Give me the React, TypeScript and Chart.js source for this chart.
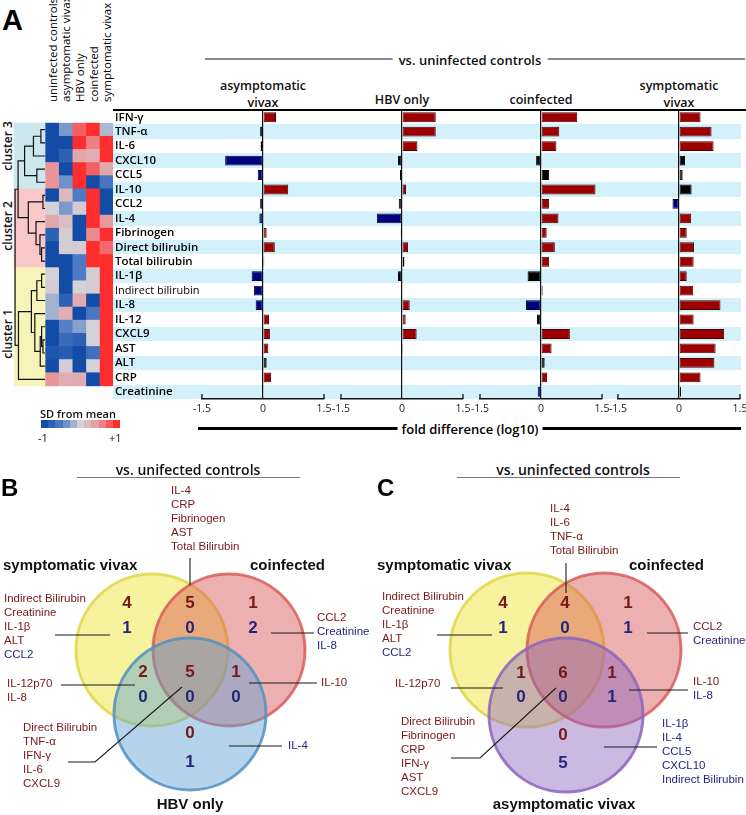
import React, { useEffect, useRef } from 'react';
import { Chart, registerables } from 'chart.js';

Chart.register(...registerables);

// ======================= DATA =======================
const ROW_LABELS = ['IFN-γ', 'TNF-α', 'IL-6', 'CXCL10', 'CCL5', 'IL-10', 'CCL2', 'IL-4', 'Fibrinogen', 'Direct bilirubin', 'Total bilirubin', 'IL-1β', 'Indirect bilirubin', 'IL-8', 'IL-12', 'CXCL9', 'AST', 'ALT', 'CRP', 'Creatinine'];
const GROUP_LABELS = ['uninfected controls', 'asymptomatic vivax', 'HBV only', 'coinfected', 'symptomatic vivax'];
const ROW_CLUSTER = [3, 3, 3, 3, 3, 2, 2, 2, 2, 2, 2, 1, 1, 1, 1, 1, 1, 1, 1, 1];
const CLUSTER_LABELS = ['cluster 1', 'cluster 2', 'cluster 3'];

// heatmap: SD from mean, one array per group (column)
const SD_UNINFECTED = [-1, -1, -1, 0.5, 0.5, -1, 0.0, 0.35, -0.8, -1, -1, 0.0, 0.05, -0.2, -0.2, -1, -1, -0.9, -1, 0.5];
const SD_ASYMPTOMATIC = [-0.35, -1, -0.8, -1, -0.4, 0.2, -0.35, 0.15, 0.05, 0.05, -1, -1, -1, -0.8, 0.3, -0.5, -0.7, -0.85, 0.05, 0.3];
const SD_HBV = [0.75, 1, 0.35, 1, 1, -0.55, 0.05, -1, -1, 0.05, -0.55, -0.55, 0.0, 0.3, -1, -0.3, -0.8, -1, -1, 0.3];
const SD_COINFECTED = [1, 0.6, 0.3, 0.75, -1, 1, 1, 1, 0.55, 1, 1, 0.05, 0.05, -1, -0.6, 0.0, 0.0, -0.65, 0.0, -1];
const SD_SYMPTOMATIC = [-0.15, 1, 1, 0.35, -0.6, -1, -1, 0.45, 1, 0.7, 1, 1, 1, 1, 1, 1, 1, 1, 1, 1];

// dendrogram merges: [childA, childB, height]; leaves 0..19, merged nodes numbered 20, 21, ...
const DENDRO_MERGES: [number, number, number][] = [
  [0, 1, 0.3], [20, 2, 0.85], [3, 4, 0.6], [21, 22, 1.5],
  [5, 6, 0.15], [9, 10, 0.25], [8, 25, 0.37], [7, 26, 0.66], [24, 27, 1.23],
  [23, 28, 1.98],
  [11, 12, 0.25], [30, 13, 0.6], [16, 17, 0.15], [15, 32, 0.25], [33, 18, 0.35], [14, 34, 0.75], [31, 35, 1.0], [36, 19, 1.95],
  [29, 37, 2.2],
];

// fold difference (log10) vs. uninfected controls
const COMPARISON_TITLES = ['asymptomatic\nvivax', 'HBV only', 'coinfected', 'symptomatic\nvivax'];
const FC_ASYMPTOMATIC = [0.32, -0.07, -0.06, -0.93, -0.13, 0.62, -0.07, -0.09, 0.09, 0.29, 0.03, -0.28, -0.22, -0.18, 0.15, 0.17, 0.13, 0.09, 0.2, -0.02];
const SIG_ASYMPTOMATIC = ['up', 'ns', 'ns', 'down', 'down', 'up', 'ns', 'down', 'up', 'up', 'ns', 'down', 'down', 'down', 'up', 'up', 'up', 'ns', 'up', 'ns'];
const FC_HBV = [0.83, 0.83, 0.38, -0.1, -0.05, 0.1, -0.08, -0.62, -0.03, 0.15, 0.06, -0.1, 0.0, 0.19, 0.09, 0.36, 0.03, -0.01, -0.02, 0.0];
const SIG_HBV = ['up', 'up', 'up', 'ns', 'ns', 'up', 'ns', 'down', 'ns', 'up', 'ns', 'ns', 'ns', 'up', 'up', 'up', 'ns', 'ns', 'ns', 'ns'];
const FC_COINFECTED = [0.89, 0.45, 0.38, -0.12, 0.2, 1.34, 0.2, 0.43, 0.14, 0.34, 0.2, -0.33, 0.04, -0.37, -0.1, 0.71, 0.26, 0.09, 0.15, -0.08];
const SIG_COINFECTED = ['up', 'up', 'up', 'ns', 'ns', 'up', 'up', 'up', 'up', 'up', 'up', 'ns', 'ns', 'down', 'ns', 'up', 'up', 'ns', 'up', 'down'];
const FC_SYMPTOMATIC = [0.53, 0.8, 0.85, 0.15, 0.09, 0.31, -0.16, 0.3, 0.19, 0.37, 0.36, 0.19, 0.35, 1.02, 0.36, 1.11, 0.9, 0.87, 0.53, 0.05];
const SIG_SYMPTOMATIC = ['up', 'up', 'up', 'ns', 'ns', 'ns', 'down', 'up', 'up', 'up', 'up', 'up', 'up', 'up', 'up', 'up', 'up', 'up', 'up', 'up'];
const AXIS_TICKS = [-1.5, 0, 1.5];
const LEGEND_STEPS = [-1, -0.8, -0.6, -0.4, -0.2, 0, 0.2, 0.4, 0.6, 0.8, 1];

// Venn B
const VENN_B_SETS = ['symptomatic vivax', 'coinfected', 'HBV only'];
const VENN_B_UP = [4, 5, 1, 2, 5, 1, 0];
const VENN_B_DOWN = [1, 0, 2, 0, 0, 0, 1];
const VENN_B_GENES_UP = [['Indirect Bilirubin', 'Creatinine', 'IL-1β', 'ALT'], ['IL-4', 'CRP', 'Fibrinogen', 'AST', 'Total Bilirubin'], ['CCL2'], ['IL-12p70', 'IL-8'], ['Direct Bilirubin', 'TNF-α', 'IFN-γ', 'IL-6', 'CXCL9'], ['IL-10'], []];
const VENN_B_GENES_DOWN = [['CCL2'], [], ['Creatinine', 'IL-8'], [], [], [], ['IL-4']];
// Venn C
const VENN_C_SETS = ['symptomatic vivax', 'coinfected', 'asymptomatic vivax'];
const VENN_C_UP = [4, 4, 1, 1, 6, 1, 0];
const VENN_C_DOWN = [1, 0, 1, 0, 0, 1, 5];
const VENN_C_GENES_UP = [['Indirect Bilirubin', 'Creatinine', 'IL-1β', 'ALT'], ['IL-4', 'IL-6', 'TNF-α', 'Total Bilirubin'], ['CCL2'], ['IL-12p70'], ['Direct Bilirubin', 'Fibrinogen', 'CRP', 'IFN-γ', 'AST', 'CXCL9'], ['IL-10'], []];
const VENN_C_GENES_DOWN = [['CCL2'], [], ['Creatinine'], [], [], ['IL-8'], ['IL-1β', 'IL-4', 'CCL5', 'CXCL10', 'Indirect Bilirubin']];

// ======================= LAYOUT / STYLE =======================
const FONT_A = '"Open Sans", "DejaVu Sans", sans-serif';
const FONT_V = '"Liberation Sans", Arial, sans-serif';
const ROW_TOP = 110;
const ROW_BOTTOM = 399;
const ROW_H = (ROW_BOTTOM - ROW_TOP) / ROW_LABELS.length;
const HM_LEFT = 45;
const HM_RIGHT = 113;
const COL_W = (HM_RIGHT - HM_LEFT) / GROUP_LABELS.length;
const SHADE_LEFT = 14;
const PANEL_ZERO = [263, 402, 541, 679];
const HALF = 61;
const PAD = 16;
const LABEL_PAD = 2;
const CLUSTER_FILL: Record<number, string> = { 3: '#cde7ee', 2: '#f9c9ca', 1: '#f8f3b9' };
const SIG_FILL: Record<string, string> = { up: '#9c0000', down: '#00007f', ns: '#000000' };
const SIG_BORDER: Record<string, string> = { up: '#4a0000', down: '#000040', ns: '#000000' };
const UP_TEXT = '#761818';
const DOWN_TEXT = '#26267e';

const SD_STOPS: [number, number[]][] = [
  [-1, [18, 76, 166]], [-0.5, [85, 128, 200]], [0, [210, 210, 216]], [0.5, [232, 148, 152]], [1, [255, 46, 46]],
];
function sdColor(v: number): string {
  const x = Math.max(-1, Math.min(1, v));
  for (let k = 0; k < SD_STOPS.length - 1; k++) {
    const [a, ca] = SD_STOPS[k];
    const [b, cb] = SD_STOPS[k + 1];
    if (x <= b) {
      const t = (x - a) / (b - a);
      const c = ca.map((q, j) => Math.round(q + (cb[j] - q) * t));
      return `rgb(${c[0]},${c[1]},${c[2]})`;
    }
  }
  return 'rgb(255,46,46)';
}

// ======================= CHART CONFIGS =======================
function heatmapConfig(): any {
  const cols = [SD_UNINFECTED, SD_ASYMPTOMATIC, SD_HBV, SD_COINFECTED, SD_SYMPTOMATIC];
  const nodeY: number[] = ROW_LABELS.map((_, i) => i);
  const nodeH: number[] = ROW_LABELS.map(() => 0);
  DENDRO_MERGES.forEach(([a, b, h]) => {
    nodeY.push((nodeY[a] + nodeY[b]) / 2);
    nodeH.push(h);
  });
  const shadeX = -(HM_LEFT - SHADE_LEFT) / COL_W;
  const datasets: any[] = [];
  DENDRO_MERGES.forEach(([a, b, h]) => {
    datasets.push({
      type: 'line',
      data: [
        { x: -nodeH[a], y: nodeY[a] }, { x: -h, y: nodeY[a] },
        { x: -h, y: nodeY[b] }, { x: -nodeH[b], y: nodeY[b] },
      ],
      borderColor: '#111',
      borderWidth: 1.2,
      pointRadius: 0,
      pointHitRadius: 0,
      tension: 0,
      fill: false,
      order: 0,
    });
  });
  datasets.push({
    type: 'bar',
    data: ROW_LABELS.map((_, i) => ({ x: [shadeX, 0], y: i })),
    backgroundColor: ROW_CLUSTER.map((c) => CLUSTER_FILL[c]),
    grouped: false, barPercentage: 1, categoryPercentage: 1, borderWidth: 0, order: 2,
  });
  cols.forEach((col, c) => {
    datasets.push({
      type: 'bar',
      label: GROUP_LABELS[c],
      data: col.map((_, i) => ({ x: [c, c + 1], y: i })),
      backgroundColor: col.map(sdColor),
      grouped: false, barPercentage: 1, categoryPercentage: 1, borderWidth: 0, order: 2,
    });
  });
  return {
    type: 'bar',
    data: { datasets },
    options: {
      indexAxis: 'y',
      responsive: false,
      animation: false,
      events: [],
      layout: { padding: 0, autoPadding: false },
      plugins: { legend: { display: false }, tooltip: { enabled: false } },
      scales: {
        x: { type: 'linear', display: false, min: -HM_LEFT / COL_W, max: GROUP_LABELS.length },
        y: { type: 'linear', display: false, min: -0.5, max: ROW_LABELS.length - 0.5, reverse: true, ticks: { stepSize: 1 } },
      },
    },
  };
}

const bracketPlugin = {
  id: 'axisBrackets',
  afterDraw(chart: any) {
    const s = chart.scales.x;
    const ctx = chart.ctx;
    const yb = chart.chartArea.bottom;
    ctx.save();
    ctx.strokeStyle = '#111';
    ctx.lineWidth = 1.3;
    [AXIS_TICKS[0], AXIS_TICKS[AXIS_TICKS.length - 1]].forEach((v) => {
      const x = s.getPixelForValue(v);
      ctx.beginPath();
      ctx.moveTo(x, yb);
      ctx.lineTo(x, yb - 5);
      ctx.stroke();
    });
    ctx.restore();
  },
};

function barConfig(values: number[], sig: string[], showLabels: boolean): any {
  return {
    type: 'bar',
    data: {
      labels: ROW_LABELS,
      datasets: [{
        data: values,
        backgroundColor: sig.map((s) => SIG_FILL[s]),
        borderColor: sig.map((s) => SIG_BORDER[s]),
        borderWidth: 1,
        borderSkipped: false,
        barPercentage: 0.68,
        categoryPercentage: 1,
      }],
    },
    options: {
      indexAxis: 'y',
      responsive: false,
      animation: false,
      events: [],
      layout: { autoPadding: false, padding: { top: 8, bottom: 0, left: showLabels ? LABEL_PAD : PAD, right: PAD } },
      plugins: { legend: { display: false }, tooltip: { enabled: false } },
      scales: {
        x: {
          type: 'linear',
          min: AXIS_TICKS[0],
          max: AXIS_TICKS[AXIS_TICKS.length - 1],
          afterBuildTicks: (s: any) => { s.ticks = AXIS_TICKS.map((v) => ({ value: v })); },
          afterFit: (s: any) => { s.height = 20; },
          ticks: {
            autoSkip: false,
            maxRotation: 0,
            padding: 4,
            color: '#222',
            font: { family: FONT_A, size: 10.5 },
            callback: (v: any) => (v === 0 ? '0' : String(v)),
          },
          grid: {
            drawTicks: false,
            color: (c: any) => (c.tick && c.tick.value === 0 ? '#111' : 'rgba(0,0,0,0)'),
            lineWidth: 1.2,
          },
          border: { display: true, color: '#111', width: 1.5 },
        },
        y: {
          type: 'category',
          display: showLabels,
          afterFit: (s: any) => { s.width = showLabels ? PANEL_ZERO[0] - HALF - HM_RIGHT - LABEL_PAD : 0; },
          grid: { display: false },
          border: { display: false },
          ticks: {
            autoSkip: false,
            crossAlign: 'far',
            padding: 0,
            color: '#000',
            font: (c: any) => (ROW_LABELS[c.index] === 'Indirect bilirubin'
              ? { family: FONT_A, size: 11, weight: 'normal' }
              : { family: FONT_A, size: 11.5, weight: '600' }),
          },
        },
      },
    },
    plugins: [bracketPlugin],
  };
}

type VennLayout = {
  circles: number[][];
  r: number;
  nums: number[][];
  downGap: number[];
  labels: number[][];
  leaders: number[][][];
};
const VENN_B_LAYOUT: VennLayout = {
  circles: [[152, 170], [229, 170], [190, 234]],
  r: 76,
  nums: [[127, 123], [190, 123], [253, 123], [143, 192], [190, 192], [236, 192], [190, 253]],
  downGap: [25, 25, 25, 25, 25, 25, 29],
  labels: [[4, 119], [171, 11], [317, 138], [7, 204], [23, 248], [321, 203], [288, 266]],
  leaders: [
    [[55, 155], [110, 155]], [[190, 78], [190, 105]], [[271, 153], [314, 153]],
    [[61, 205], [135, 205]], [[68, 282], [95, 282], [182, 207]], [[249, 203], [317, 203]], [[229, 266], [282, 266]],
  ],
};
const VENN_C_LAYOUT: VennLayout = {
  circles: [[154, 170], [231, 170], [193, 235]],
  r: 77,
  nums: [[130, 123], [192, 123], [255, 123], [148, 193], [190, 193], [239, 193], [190, 255]],
  downGap: [25, 25, 25, 24, 24, 24, 28],
  labels: [[9, 117], [177, 29], [320, 147], [22, 204], [28, 242], [320, 202], [289, 244]],
  leaders: [
    [[64, 155], [119, 155]], [[193, 83], [193, 113]], [[274, 153], [315, 153]],
    [[78, 208], [130, 208]], [[78, 278], [107, 278], [183, 208]], [[256, 210], [315, 210]], [[231, 267], [284, 267]],
  ],
};
const VENN_W = 373;
const VENN_H = 335;
const CIRCLE_STYLE_B = [
  { fill: 'rgba(240,230,60,0.5)', stroke: 'rgba(225,215,70,0.85)' },
  { fill: 'rgba(215,80,80,0.45)', stroke: 'rgba(215,85,85,0.8)' },
  { fill: 'rgba(90,160,210,0.45)', stroke: 'rgba(80,145,195,0.85)' },
];
const CIRCLE_STYLE_C = [
  CIRCLE_STYLE_B[0], CIRCLE_STYLE_B[1],
  { fill: 'rgba(140,100,190,0.45)', stroke: 'rgba(140,100,190,0.85)' },
];

function vennConfig(sets: string[], up: number[], down: number[], gUp: string[][], gDown: string[][], L: VennLayout, styles: any[]): any {
  const textPlugin = {
    id: 'vennText',
    afterDatasetsDraw(chart: any) {
      const ctx = chart.ctx;
      const sx = chart.scales.x;
      const sy = chart.scales.y;
      const px = (v: number) => sx.getPixelForValue(v);
      const py = (v: number) => sy.getPixelForValue(v);
      ctx.save();
      ctx.strokeStyle = '#1a1a1a';
      ctx.lineWidth = 1.1;
      L.leaders.forEach((pts) => {
        ctx.beginPath();
        pts.forEach(([x, y], k) => (k ? ctx.lineTo(px(x), py(y)) : ctx.moveTo(px(x), py(y))));
        ctx.stroke();
      });
      ctx.textAlign = 'center';
      ctx.textBaseline = 'middle';
      ctx.font = `bold 17px ${FONT_V}`;
      up.forEach((n, k) => {
        const [x, y] = L.nums[k];
        ctx.fillStyle = UP_TEXT;
        ctx.fillText(String(n), px(x), py(y));
        ctx.fillStyle = DOWN_TEXT;
        ctx.fillText(String(down[k]), px(x), py(y + L.downGap[k]));
      });
      ctx.textAlign = 'left';
      ctx.font = `11.5px ${FONT_V}`;
      gUp.forEach((list, k) => {
        const [x, y] = L.labels[k];
        const all = [...list.map((g) => [g, UP_TEXT]), ...gDown[k].map((g) => [g, DOWN_TEXT])];
        all.forEach(([g, c], j) => {
          ctx.fillStyle = c;
          ctx.fillText(g, px(x), py(y + j * 14));
        });
      });
      ctx.restore();
    },
  };
  return {
    type: 'bubble',
    data: {
      datasets: L.circles.map((c, k) => ({
        label: sets[k],
        data: [{ x: c[0], y: c[1] }],
        radius: L.r,
        backgroundColor: styles[k].fill,
        borderColor: styles[k].stroke,
        borderWidth: 3,
        clip: false,
        order: L.circles.length - k,
      })),
    },
    options: {
      responsive: false,
      animation: false,
      events: [],
      layout: { padding: 0, autoPadding: false },
      plugins: { legend: { display: false }, tooltip: { enabled: false } },
      scales: {
        x: { type: 'linear', display: false, min: 0, max: VENN_W },
        y: { type: 'linear', display: false, min: 0, max: VENN_H, reverse: true },
      },
    },
    plugins: [textPlugin],
  };
}

// ======================= COMPONENTS =======================
function ChartCanvas(props: { left: number; top: number; width: number; height: number; make: () => any }) {
  const ref = useRef<HTMLCanvasElement>(null);
  useEffect(() => {
    const chart = new Chart(ref.current as HTMLCanvasElement, props.make());
    return () => chart.destroy();
  }, []);
  return (
    <canvas
      ref={ref}
      width={props.width}
      height={props.height}
      style={{ position: 'absolute', left: props.left, top: props.top, width: props.width, height: props.height }}
    />
  );
}

const abs: React.CSSProperties = { position: 'absolute', whiteSpace: 'nowrap', lineHeight: 1, color: '#111' };

export default function App() {
  const fcs = [FC_ASYMPTOMATIC, FC_HBV, FC_COINFECTED, FC_SYMPTOMATIC];
  const sigs = [SIG_ASYMPTOMATIC, SIG_HBV, SIG_COINFECTED, SIG_SYMPTOMATIC];
  const clusterCenters = [1, 2, 3].map((c) => {
    const idx = ROW_CLUSTER.map((v, i) => (v === c ? i : -1)).filter((i) => i >= 0);
    return ROW_TOP + ((idx[0] + idx[idx.length - 1] + 1) / 2) * ROW_H;
  });
  return (
    <div style={{ position: 'absolute', left: 0, top: 0, width: 746, height: 815, background: '#fff', overflow: 'hidden' }}>
      {/* ---------- Panel A ---------- */}
      <div style={{ ...abs, left: 2, top: 4, font: `bold 29px ${FONT_V}`, color: '#000' }}>A</div>
      {GROUP_LABELS.map((g, i) => (
        <div
          key={g}
          style={{
            ...abs, left: HM_LEFT + COL_W * (i + 0.5) - 7, top: 102, lineHeight: '14px',
            transform: 'rotate(-90deg)', transformOrigin: 'left top', font: `11.5px ${FONT_A}`, color: '#000',
          }}
        >{g}</div>
      ))}
      {CLUSTER_LABELS.map((c, i) => (
        <div
          key={c}
          style={{
            ...abs, left: 7, top: clusterCenters[i], transform: 'translate(-50%,-50%) rotate(-90deg)',
            font: `600 12px ${FONT_A}`, color: '#111',
          }}
        >{c}</div>
      ))}
      {/* header */}
      <div style={{ position: 'absolute', left: 205, top: 58, width: 540, height: 1.5, background: '#8c8c8c' }} />
      <div style={{ ...abs, left: 470, top: 51, transform: 'translateX(-50%)', background: '#fff', padding: '0 6px', font: `600 13px ${FONT_A}` }}>vs. uninfected controls</div>
      {COMPARISON_TITLES.map((t, i) => {
        const two = t.includes('\n');
        return (
          <div
            key={t}
            style={{
              ...abs, left: PANEL_ZERO[i] - 60, width: 120, textAlign: 'center', top: two ? 77 : 91,
              lineHeight: '14px', whiteSpace: 'pre', font: `600 12.5px ${FONT_A}`,
            }}
          >{t}</div>
        );
      })}
      {/* row stripes */}
      {ROW_LABELS.map((r, i) => (i % 2 === 1 ? (
        <div key={r} style={{ position: 'absolute', left: HM_RIGHT, top: ROW_TOP + i * ROW_H, width: 741 - HM_RIGHT, height: ROW_H, background: '#d3f1fb' }} />
      ) : null))}
      <div style={{ position: 'absolute', left: HM_RIGHT, top: ROW_TOP - 1.5, width: 746 - HM_RIGHT, height: 2, background: '#000' }} />

      <ChartCanvas left={0} top={ROW_TOP} width={HM_RIGHT} height={ROW_BOTTOM - ROW_TOP} make={heatmapConfig} />
      {fcs.map((v, i) => {
        const first = i === 0;
        const left = first ? HM_RIGHT : PANEL_ZERO[i] - HALF - PAD;
        const width = PANEL_ZERO[i] + HALF + PAD - left;
        return (
          <ChartCanvas key={i} left={left} top={ROW_TOP - 8} width={width} height={8 + (ROW_BOTTOM - ROW_TOP) + 20} make={() => barConfig(v, sigs[i], first)} />
        );
      })}

      {/* colour legend */}
      <div style={{ ...abs, left: 40, top: 406, font: `600 11px ${FONT_A}` }}>SD from mean</div>
      {LEGEND_STEPS.map((s, k) => (
        <div key={k} style={{ position: 'absolute', left: 41 + k * 7.2, top: 420, width: 7.4, height: 8, background: sdColor(s) }} />
      ))}
      <div style={{ ...abs, left: 38, top: 430, font: `11px ${FONT_A}` }}>-1</div>
      <div style={{ ...abs, left: 109, top: 430, font: `11px ${FONT_A}` }}>+1</div>

      {/* x-axis title */}
      <div style={{ position: 'absolute', left: 198, top: 427, width: 543, height: 2.5, background: '#000' }} />
      <div style={{ ...abs, left: 470, top: 420, transform: 'translateX(-50%)', background: '#fff', padding: '0 4px', font: `600 13px ${FONT_A}`, color: '#000' }}>fold difference (log10)</div>

      {/* ---------- Panel B ---------- */}
      <div style={{ ...abs, left: 1, top: 474, font: `bold 24px ${FONT_V}`, color: '#000' }}>B</div>
      <div style={{ ...abs, left: 188, top: 460, transform: 'translateX(-50%)', font: `600 14px ${FONT_A}` }}>vs. unifected controls</div>
      <div style={{ position: 'absolute', left: 77, top: 477, width: 223, height: 1, background: '#777' }} />
      <ChartCanvas left={0} top={480} width={VENN_W} height={VENN_H} make={() => vennConfig(VENN_B_SETS, VENN_B_UP, VENN_B_DOWN, VENN_B_GENES_UP, VENN_B_GENES_DOWN, VENN_B_LAYOUT, CIRCLE_STYLE_B)} />
      <div style={{ ...abs, left: 3, top: 556, font: `bold 15px ${FONT_V}` }}>{VENN_B_SETS[0]}</div>
      <div style={{ ...abs, left: 250, top: 556, font: `bold 15px ${FONT_V}` }}>{VENN_B_SETS[1]}</div>
      <div style={{ ...abs, left: 190, top: 795, transform: 'translateX(-50%)', font: `bold 15px ${FONT_V}` }}>{VENN_B_SETS[2]}</div>

      {/* ---------- Panel C ---------- */}
      <div style={{ ...abs, left: 377, top: 474, font: `bold 24px ${FONT_V}`, color: '#000' }}>C</div>
      <div style={{ ...abs, left: 573, top: 460, transform: 'translateX(-50%)', font: `600 14px ${FONT_A}` }}>vs. uninfected controls</div>
      <div style={{ position: 'absolute', left: 457, top: 477, width: 223, height: 1, background: '#777' }} />
      <ChartCanvas left={373} top={480} width={VENN_W} height={VENN_H} make={() => vennConfig(VENN_C_SETS, VENN_C_UP, VENN_C_DOWN, VENN_C_GENES_UP, VENN_C_GENES_DOWN, VENN_C_LAYOUT, CIRCLE_STYLE_C)} />
      <div style={{ ...abs, left: 377, top: 556, font: `bold 15px ${FONT_V}` }}>{VENN_C_SETS[0]}</div>
      <div style={{ ...abs, left: 629, top: 556, font: `bold 15px ${FONT_V}` }}>{VENN_C_SETS[1]}</div>
      <div style={{ ...abs, left: 564, top: 795, transform: 'translateX(-50%)', font: `bold 15px ${FONT_V}` }}>{VENN_C_SETS[2]}</div>
    </div>
  );
}
